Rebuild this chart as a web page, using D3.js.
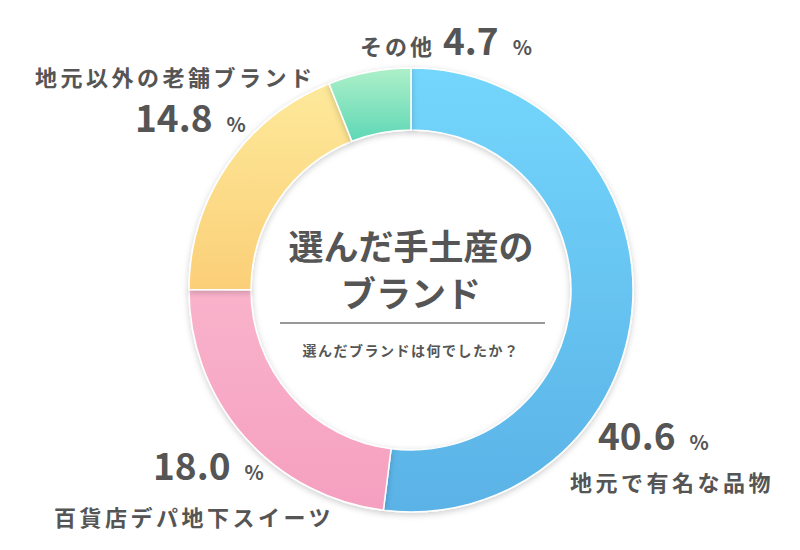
<!DOCTYPE html>
<html lang="ja">
<head>
<meta charset="UTF-8">
<script src="https://d3js.org/d3.v7.min.js"></script>
<style>
  body { margin: 0; background: #fff; }
  text { font-family: "Noto Sans CJK JP", "Noto Sans", sans-serif; fill: #555; font-weight: bold; }
</style>
</head>
<body>
<script>
    // data
    var categories = ["地元で有名な品物", "百貨店デパ地下スイーツ", "地元以外の老舗ブランド", "その他"];
    var values = [40.6, 18.0, 14.8, 4.7];
    var colorsTop = ["#74d6fc", "#f9b3cb", "#fde99a", "#aef0c8"];
    var colorsBottom = ["#5ab2e6", "#f59fbf", "#fbcf78", "#5ed7b6"];

    var width = 800, height = 550;
    var cx = 411, cy = 290, outerR = 222, innerR = 160;

    var svg = d3.select("body").append("svg")
        .attr("width", width)
        .attr("height", height);

    var defs = svg.append("defs");
    categories.forEach(function(c, i) {
        var g = defs.append("linearGradient").attr("id", "grad" + i)
            .attr("x1", 0).attr("y1", 0).attr("x2", 0).attr("y2", 1);
        g.append("stop").attr("offset", "0%").attr("stop-color", colorsTop[i]);
        g.append("stop").attr("offset", "100%").attr("stop-color", colorsBottom[i]);
    });
    var f = defs.append("filter").attr("id", "shadow").attr("x", "-10%").attr("y", "-10%").attr("width", "120%").attr("height", "120%");
    f.append("feDropShadow").attr("dx", 0).attr("dy", 2).attr("stdDeviation", 3).attr("flood-opacity", 0.2);

    var pie = d3.pie().sort(null);
    var arc = d3.arc().innerRadius(innerR).outerRadius(outerR);

    var g = svg.append("g").attr("transform", "translate(" + cx + "," + cy + ")");
    g.selectAll("path").data(pie(values)).enter()
        .append("path")
        .attr("d", arc)
        .attr("fill", function(d, i) { return "url(#grad" + i + ")"; })
        .attr("stroke", "#fff")
        .attr("stroke-width", 1.5)
        .attr("filter", "url(#shadow)");

    // center title
    g.append("text").attr("text-anchor", "middle").attr("y", -30)
        .style("font-size", "35px").text("選んだ手土産の");
    g.append("text").attr("text-anchor", "middle").attr("y", 17)
        .style("font-size", "35px").text("ブランド");
    g.append("line").attr("x1", -131).attr("x2", 134).attr("y1", 33).attr("y2", 33)
        .attr("stroke", "#777").attr("stroke-width", 1.5);
    g.append("text").attr("text-anchor", "middle").attr("y", 66)
        .style("font-size", "14px").style("letter-spacing", "1.5px").text("選んだブランドは何でしたか？");

    // labels
    function numLabel(x, y, v) {
        var t = svg.append("text").attr("x", x).attr("y", y);
        t.append("tspan").style("font-size", "37px").text(v.toFixed(1));
        t.append("tspan").style("font-size", "20px").attr("dx", 14).text("%");
        return t;
    }
    function catLabel(x, y, s) {
        return svg.append("text").attr("x", x).attr("y", y)
            .style("font-size", "22px").style("letter-spacing", "3.5px").text(s);
    }

    // その他
    var t3 = svg.append("text").attr("x", 360).attr("y", 55);
    t3.append("tspan").style("font-size", "22px").style("letter-spacing", "3px").text(categories[3] + " ");
    t3.append("tspan").style("font-size", "37px").text(values[3].toFixed(1));
    t3.append("tspan").style("font-size", "20px").attr("dx", 14).text("%");

    catLabel(35, 86, categories[2]);
    numLabel(135, 132, values[2]);

    numLabel(598, 450, values[0]);
    catLabel(570, 491, categories[0]);

    numLabel(153, 480, values[1]);
    catLabel(54, 526, categories[1]);
</script>
</body>
</html>
